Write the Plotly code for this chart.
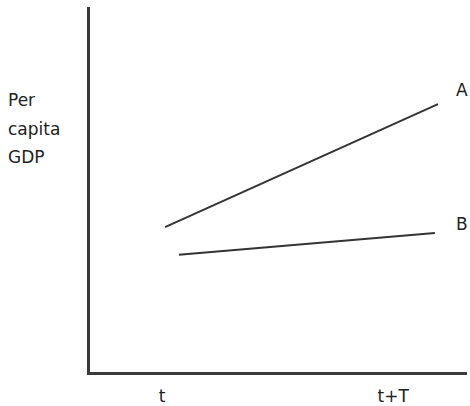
import plotly.graph_objects as go

# Data (conceptual units: x 0..100 along time axis, y 0..100 along GDP axis)
tick_vals = [19.1, 80.4]
tick_text = ["t", "t+T"]

series_names = ["A", "B"]
a_x = [19.9, 92.3]
a_y = [39.7, 73.4]
b_x = [23.6, 91.5]
b_y = [32.1, 38.1]

label_x = [100, 100]
label_y = [77.3, 40.5]

y_title_lines = ["Per", "capita", "GDP"]

FONT = dict(family="DejaVu Sans", size=17, color="#222222")
LINE_COLOR = "#333333"

fig = go.Figure()
for name, xs, ys in [("A", a_x, a_y), ("B", b_x, b_y)]:
    fig.add_trace(go.Scatter(x=xs, y=ys, mode="lines", name=name,
                             line=dict(color=LINE_COLOR, width=2),
                             showlegend=False, hoverinfo="skip"))

annotations = []
for name, lx, ly in zip(series_names, label_x, label_y):
    annotations.append(dict(x=lx, y=ly, xref="x", yref="y", text=name,
                            showarrow=False, xanchor="right", yanchor="middle",
                            xshift=3, font=FONT))

# y-axis title lines
line_centers_px = [100, 129, 157]  # offsets measured from top of page
for txt, cy in zip(y_title_lines, line_centers_px):
    annotations.append(dict(x=-84/377, y=(372 - cy)/365, xref="paper", yref="paper",
                            text=txt, showarrow=False, xanchor="left",
                            yanchor="middle", font=FONT))

fig.update_layout(
    width=470, height=406,
    margin=dict(l=90, r=3, t=7, b=34, autoexpand=False),
    paper_bgcolor="white", plot_bgcolor="white",
    annotations=annotations,
    xaxis=dict(range=[0, 100], showgrid=False, zeroline=False,
               showline=True, linecolor="#3a3a3a", linewidth=2.5,
               tickvals=tick_vals, ticktext=tick_text,
               ticks="outside", ticklen=7, tickcolor="rgba(0,0,0,0)",
               tickfont=FONT, fixedrange=True, automargin=False),
    yaxis=dict(range=[0, 100], showgrid=False, zeroline=False,
               showline=True, linecolor="#3a3a3a", linewidth=2.5,
               showticklabels=False, ticks="", fixedrange=True,
               automargin=False),
)

fig.write_html("out.html", config={"displayModeBar": False},
               post_script="document.body.style.margin='0';document.body.style.overflow='hidden';")
